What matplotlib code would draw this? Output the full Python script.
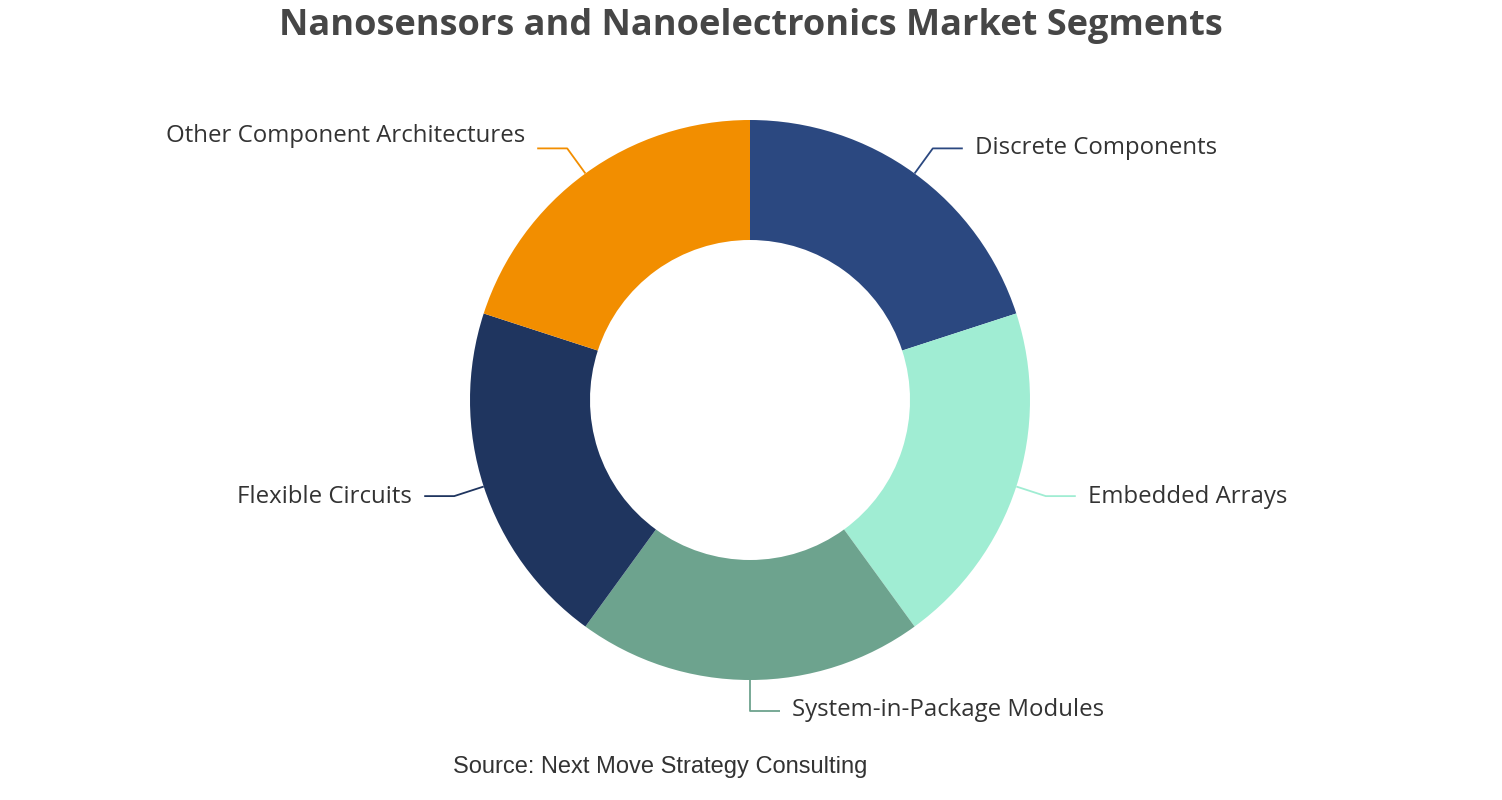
import numpy as np
import matplotlib.pyplot as plt

segmentos = ["Discrete Components", "Embedded Arrays", "System-in-Package Modules",
             "Flexible Circuits", "Other Component Architectures"]
valores = [20, 20, 20, 20, 20]
cores = ["#2b4880", "#a0edd3", "#6da38e", "#1f355f", "#f28e00"]

titulo = "Nanosensors and Nanoelectronics Market Segments"
fonte = "Source: Next Move Strategy Consulting"

W, H = 1502, 800
fig = plt.figure(figsize=(W / 100, H / 100), dpi=100)
ax = fig.add_axes([0, 0, 1, 1])
ax.set_xlim(0, W)
ax.set_ylim(0, H)
ax.set_aspect("equal")
ax.axis("off")

cx, cy = 750, 400
r_ext, r_int = 280, 160

fatias, _ = ax.pie(valores, colors=cores, startangle=90, counterclock=False,
                   radius=r_ext, center=(cx, cy),
                   wedgeprops=dict(width=r_ext - r_int, linewidth=0))
ax.set_xlim(0, W)
ax.set_ylim(0, H)

# linhas de chamada estilo echarts
len1, len2, gap = 31, 30, 12
ajuste_y = [0, -1, 1, -1, 12]  # pequenos deslocamentos do texto
for fatia, nome, cor, dy in zip(fatias, segmentos, cores, ajuste_y):
    ang = np.deg2rad((fatia.theta1 + fatia.theta2) / 2)
    x0, y0 = cx + r_ext * np.cos(ang), cy + r_ext * np.sin(ang)
    x1, y1 = cx + (r_ext + len1) * np.cos(ang), cy + (r_ext + len1) * np.sin(ang)
    lado = 1 if round(np.cos(ang), 6) >= 0 else -1
    x2 = x1 + lado * len2
    ax.plot([x0, x1, x2], [y0, y1, y1], color=cor, lw=1.3, solid_capstyle="butt")
    ax.text(x2 + lado * gap, y1 + dy, nome, fontsize=17.3, color="#333333",
            family="Open Sans", ha="left" if lado > 0 else "right", va="center")

ax.text(W / 2, H - 26, titulo, fontsize=26, fontweight="bold", color="#464646",
        family="Open Sans", ha="center", va="center")
ax.text(660, H - 767, fonte, fontsize=17, color="#333333",
        family="Liberation Sans", ha="center", va="center")

fig.savefig("out.png", dpi=100)
